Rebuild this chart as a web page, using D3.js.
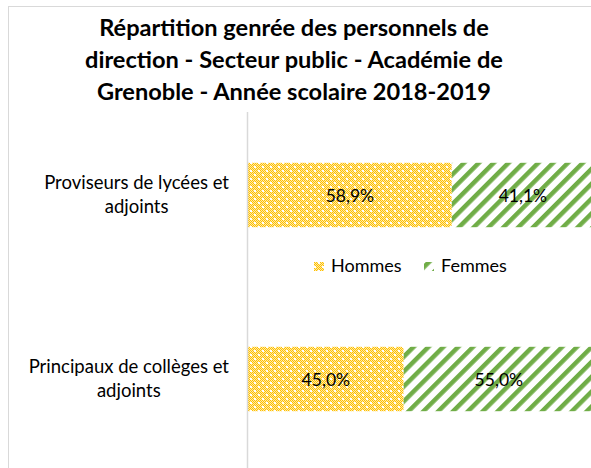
<!DOCTYPE html>
<html>
<head>
<meta charset="utf-8">
<script src="https://cdn.jsdelivr.net/npm/d3@7"></script>
<style>
    body { margin: 0; background: #fff; }
    svg { display: block; font-family: Lato, "Open Sans", sans-serif; }
</style>
</head>
<body>
<div id="chart"></div>
<script>
const titleLines = [
    "Répartition genrée des personnels de",
    "direction - Secteur public - Académie de",
    "Grenoble - Année scolaire 2018-2019"
];
const categories = [
    ["Proviseurs de lycées et", "adjoints"],
    ["Principaux de collèges et", "adjoints"]
];
const seriesNames = ["Hommes", "Femmes"];
const hommes = [58.9, 45.0];
const femmes = [41.1, 55.0];

const width = 591;
const height = 468;

const svg = d3.select("#chart").append("svg")
    .attr("width", width)
    .attr("height", height);

// patterns for the two series
const defs = svg.append("defs");

// checkerboard of yellow / pale yellow with a few white specks
const dots = defs.append("pattern")
    .attr("id", "pat-hommes")
    .attr("patternUnits", "userSpaceOnUse")
    .attr("width", 8)
    .attr("height", 8);
dots.append("rect").attr("width", 8).attr("height", 8).attr("fill", "#FFC000");
for (let i = 0; i < 8; i++) {
    for (let j = 0; j < 8; j++) {
        if ((i + j) % 2 === 1) {
            dots.append("rect").attr("x", i).attr("y", j).attr("width", 1).attr("height", 1).attr("fill", "#ffeaa8");
        }
    }
}
dots.append("rect").attr("x", 2).attr("y", 2).attr("width", 2).attr("height", 2).attr("fill", "#fff");
dots.append("rect").attr("x", 6).attr("y", 6).attr("width", 2).attr("height", 2).attr("fill", "#fff");

const stripes = defs.append("pattern")
    .attr("id", "pat-femmes")
    .attr("patternUnits", "userSpaceOnUse")
    .attr("width", 10.5)
    .attr("height", 10)
    .attr("patternTransform", "rotate(45)");
stripes.append("rect").attr("width", 10.5).attr("height", 10).attr("fill", "#fff");
stripes.append("rect").attr("width", 4.5).attr("height", 10).attr("fill", "#70AD47");

const fills = ["url(#pat-hommes)", "url(#pat-femmes)"];

// outer chart border
svg.append("rect")
    .attr("x", 8.5).attr("y", 6.5)
    .attr("width", 640).attr("height", 520)
    .attr("fill", "none")
    .attr("stroke", "#d9d9d9")
    .attr("stroke-width", 1);

// title
svg.append("text")
    .attr("text-anchor", "middle")
    .attr("font-weight", "bold")
    .attr("font-size", 23.6)
    .attr("fill", "#000")
    .selectAll("tspan")
    .data(titleLines)
    .enter().append("tspan")
    .attr("x", 294)
    .attr("y", (d, i) => 36 + i * 32)
    .text(d => d);

// scales
const x = d3.scaleLinear().domain([0, 100]).range([248, 594]);
const y = d3.scaleBand().domain(d3.range(categories.length)).range([103, 471]).paddingInner(0.65).paddingOuter(0.325);

const stacked = categories.map((c, i) => [
    { s: 0, x0: 0, x1: hommes[i], v: hommes[i] },
    { s: 1, x0: hommes[i], x1: hommes[i] + femmes[i], v: femmes[i] }
]);

const rows = svg.append("g").selectAll("g")
    .data(stacked)
    .enter().append("g");

rows.selectAll("rect")
    .data((d, i) => d.map(p => ({ ...p, row: i })))
    .enter().append("rect")
    .attr("x", d => x(d.x0))
    .attr("y", d => y(d.row))
    .attr("width", d => x(d.x1) - x(d.x0))
    .attr("height", y.bandwidth())
    .attr("fill", d => fills[d.s]);

const fmt = v => d3.format(".1f")(v).replace(".", ",") + "%";

rows.selectAll("text.val")
    .data((d, i) => d.map(p => ({ ...p, row: i })))
    .enter().append("text")
    .attr("class", "val")
    .attr("x", d => (x(d.x0) + x(d.x1)) / 2)
    .attr("y", d => y(d.row) + y.bandwidth() / 2 + 7)
    .attr("text-anchor", "middle")
    .attr("font-size", 17.5)
    .attr("fill", "#000")
    .text(d => fmt(d.v));

// vertical axis line
svg.append("line")
    .attr("x1", 247.5).attr("x2", 247.5)
    .attr("y1", 112).attr("y2", height)
    .attr("stroke", "#d9d9d9")
    .attr("stroke-width", 1.5);

// category labels, block centred with right edge near the axis
const labelRight = 229;
categories.forEach((lines, i) => {
    const t = svg.append("text")
        .attr("text-anchor", "middle")
        .attr("font-size", 18.5)
        .attr("fill", "#000");
    const spans = t.selectAll("tspan")
        .data(lines)
        .enter().append("tspan")
        .attr("y", (d, j) => y(i) + y.bandwidth() / 2 - 6 + j * 24)
        .text(d => d);
    let maxW = 0;
    spans.each(function () { maxW = Math.max(maxW, this.getComputedTextLength()); });
    spans.attr("x", labelRight - maxW / 2);
});

// legend
const legend = svg.append("g").attr("transform", "translate(0,272)");
const legendX = [314, 424];
seriesNames.forEach((name, i) => {
    legend.append("rect")
        .attr("x", legendX[i]).attr("y", -10)
        .attr("width", 10).attr("height", 9)
        .attr("fill", fills[i]);
    legend.append("text")
        .attr("x", legendX[i] + 17)
        .attr("y", 0)
        .attr("font-size", 18)
        .attr("fill", "#000")
        .text(name);
});
</script>
</body>
</html>
